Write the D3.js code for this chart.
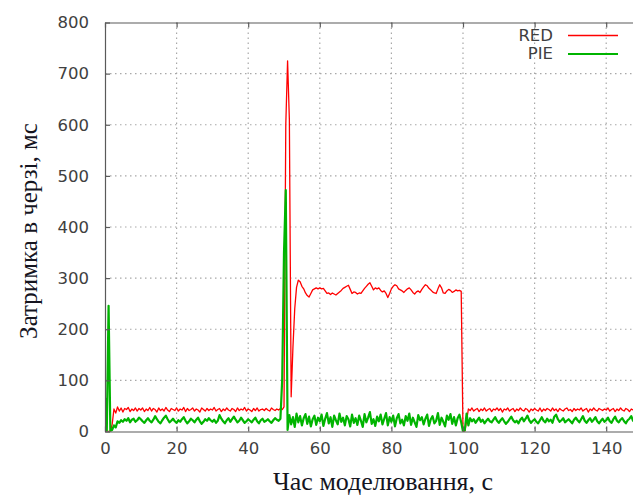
<!DOCTYPE html>
<html>
<head>
<meta charset="utf-8">
<script src="https://cdn.jsdelivr.net/npm/d3@7"></script>
<style>
  html, body { margin: 0; padding: 0; background: #ffffff; }
  svg { display: block; }
</style>
</head>
<body>
<svg id="chart" width="633" height="496"></svg>
<script>
// ---------------- DATA ----------------
const sampleStep = 0.5;          // seconds between samples
const xTicks = [0, 20, 40, 60, 80, 100, 120, 140];
const yTicks = [0, 100, 200, 300, 400, 500, 600, 700, 800];
const seriesNames = ["RED", "PIE"];

// RED queue delay, ms (t = 0 .. 150 s, step 0.5 s)
const redDelay = [
  0,0,0,0,14,44,36,48,40,46,38,45,43,47,39,44,41,46,40,45,
  42,46,39,44,41,47,40,45,43,38,46,41,44,40,47,42,39,45,43,41,
  46,40,44,42,47,39,45,41,43,46,40,44,42,38,46,43,40,45,41,44,
  42,47,40,43,45,39,44,41,46,42,40,45,43,39,46,41,44,42,47,40,
  44,42,39,45,41,46,40,43,44,41,45,42,40,46,43,41,44,42,45,43,
  48,600,725,610,68,165,240,282,296,293,284,279,271,266,263,270,277,279,281,279,
  281,279,280,275,270,271,268,271,269,267,270,273,276,280,282,284,286,278,270,273,
  272,269,271,270,275,280,284,288,291,284,277,281,279,281,276,273,275,270,262,270,
  279,284,287,285,279,277,275,272,276,279,281,277,272,269,273,275,272,278,283,287,
  285,280,277,273,271,270,279,287,281,271,270,275,278,276,272,274,277,275,276,274,
  0,0,20,44,41,46,40,43,45,39,44,41,46,40,43,45,39,44,42,46,
  41,45,38,44,42,46,40,43,45,39,44,41,46,42,40,45,43,38,44,41,
  45,42,40,46,39,44,41,45,43,40,46,41,44,39,45,42,40,44,46,41,
  43,39,45,41,44,42,46,40,43,45,38,44,41,46,42,40,45,43,41,44,
  42,46,40,43,45,39,44,41,46,42,40,45,43,39,44,42,46,41,44,40,43
];

// PIE queue delay, ms (t = 0 .. 150 s, step 0.5 s)
const pieDelay = [
  66,2,246,0,3,12,8,20,17,22,19,24,21,26,18,23,25,19,22,27,
  24,20,17,22,26,21,18,23,30,24,19,16,22,27,31,24,18,21,25,20,
  17,22,19,24,28,21,16,20,25,22,18,23,27,20,15,19,24,21,26,22,
  19,23,17,21,32,25,20,16,22,26,19,24,29,23,18,21,27,22,17,20,
  24,21,18,23,27,20,16,22,25,19,21,24,20,17,22,26,23,21,25,102,
  350,472,3,32,14,28,9,35,18,30,12,26,34,15,29,10,24,31,13,27,
  20,33,11,25,36,16,28,9,31,22,14,35,19,27,12,30,24,10,33,17,
  26,13,31,21,9,34,18,27,38,15,24,11,29,20,33,14,25,36,12,28,
  19,31,10,26,34,16,23,12,30,21,35,13,27,18,9,32,22,28,14,25,
  33,11,24,30,16,21,36,13,27,19,10,31,23,34,15,28,12,26,33,18,
  0,2,35,12,26,20,24,17,22,27,19,23,16,21,25,20,18,23,28,21,
  17,22,26,20,15,19,24,29,22,18,21,16,23,27,20,25,31,22,17,21,
  24,19,16,22,28,21,18,25,20,23,17,29,33,24,19,22,26,18,21,24,
  20,16,23,27,22,18,24,30,21,17,22,26,19,23,28,20,16,21,25,19,
  22,27,20,17,24,29,21,18,23,26,20,16,22,25,30,21,19,24,20,23,21
];

const xTitle = "Час моделювання, с";
const yTitle = "Затримка в черзі, мс";

// ---------------- LAYOUT ----------------
(function () {
const svg = d3.select("#chart");
const W = 633, H = 496;
const pLeft = 105, pRight = 642, pTop = 22.5, pBottom = 431.5;

svg.append("rect").attr("width", W).attr("height", H).attr("fill", "#ffffff");

const x = d3.scaleLinear().domain([0, 150]).range([pLeft, pRight]);
const y = d3.scaleLinear().domain([0, 800]).range([pBottom, pTop]);

const frameColor = "#5a5a5a";
const labelColor = "#404040";
const tickFont = "'DejaVu Sans', sans-serif";

// grid
const grid = svg.append("g").attr("class", "grid");
grid.selectAll("line.gx").data(xTicks.filter(d => d > 0)).join("line")
  .attr("x1", d => x(d)).attr("x2", d => x(d))
  .attr("y1", y(800)).attr("y2", y(0))
  .attr("stroke", "#a8a8a8").attr("stroke-width", 1.2)
  .attr("stroke-dasharray", "1.5,3.5");
grid.selectAll("line.gy").data(yTicks.filter(d => d > 0 && d < 800)).join("line")
  .attr("x1", x(0)).attr("x2", x(150))
  .attr("y1", d => y(d)).attr("y2", d => y(d))
  .attr("stroke", "#a8a8a8").attr("stroke-width", 1.2)
  .attr("stroke-dasharray", "1.5,3.5");

// clip
svg.append("clipPath").attr("id", "plotclip")
  .append("rect").attr("x", pLeft).attr("y", pTop - 2)
  .attr("width", pRight - pLeft).attr("height", pBottom - pTop + 2);

const times = redDelay.map((_, i) => i * sampleStep);
const line = d3.line().x((d, i) => x(times[i])).y(d => y(d));

const plot = svg.append("g").attr("clip-path", "url(#plotclip)");
plot.append("path").datum(redDelay)
  .attr("d", line).attr("fill", "none")
  .attr("stroke", "#ff0000").attr("stroke-width", 1.3)
  .attr("stroke-linejoin", "round");
plot.append("path").datum(pieDelay)
  .attr("d", line).attr("fill", "none")
  .attr("stroke", "#00b400").attr("stroke-width", 2.2)
  .attr("stroke-linejoin", "round");

// axes
const xAxis = d3.axisBottom(x).tickValues(xTicks).tickFormat(d3.format("d"))
  .tickSizeInner(-5).tickSizeOuter(0).tickPadding(11);
const gx = svg.append("g").attr("transform", `translate(0,${pBottom})`).call(xAxis);

const yAxis = d3.axisLeft(y).tickValues(yTicks).tickFormat(d3.format("d"))
  .tickSizeInner(-5).tickSizeOuter(0).tickPadding(16);
const gy = svg.append("g").attr("transform", `translate(${pLeft},0)`).call(yAxis);

// top mirror axis
const xTop = d3.axisTop(x).tickValues(xTicks).tickFormat("")
  .tickSizeInner(-5).tickSizeOuter(0);
const gt = svg.append("g").attr("transform", `translate(0,${pTop})`).call(xTop);

[gx, gy, gt].forEach(g => {
  g.selectAll("path.domain").attr("stroke", frameColor).attr("stroke-width", 1.2);
  g.selectAll(".tick line").attr("stroke", frameColor).attr("stroke-width", 1.2);
  g.selectAll(".tick text").attr("fill", labelColor)
    .style("font-family", tickFont).style("font-size", "16.5px");
});

// legend
const legend = [
  { name: seriesNames[0], color: "#ff0000", width: 1.5, ty: 41, ly: 35.5 },
  { name: seriesNames[1], color: "#00b400", width: 2.2, ty: 59, ly: 54 }
];
const lg = svg.append("g");
legend.forEach(l => {
  lg.append("text").attr("x", 553).attr("y", l.ty).attr("text-anchor", "end")
    .attr("fill", labelColor).style("font-family", tickFont).style("font-size", "16.5px")
    .text(l.name);
  lg.append("line").attr("x1", 568).attr("x2", 618).attr("y1", l.ly).attr("y2", l.ly)
    .attr("stroke", l.color).attr("stroke-width", l.width);
});

// titles
svg.append("text").attr("x", 383).attr("y", 490).attr("text-anchor", "middle")
  .attr("fill", "#15151f")
  .style("font-family", "'Liberation Serif', 'Times New Roman', serif")
  .style("font-size", "26px").text(xTitle);

svg.append("text")
  .attr("transform", "translate(37,231) rotate(-90)")
  .attr("text-anchor", "middle")
  .attr("fill", "#15151f")
  .style("font-family", "'Liberation Serif', 'Times New Roman', serif")
  .style("font-size", "25px").text(yTitle);
})();
</script>
</body>
</html>
